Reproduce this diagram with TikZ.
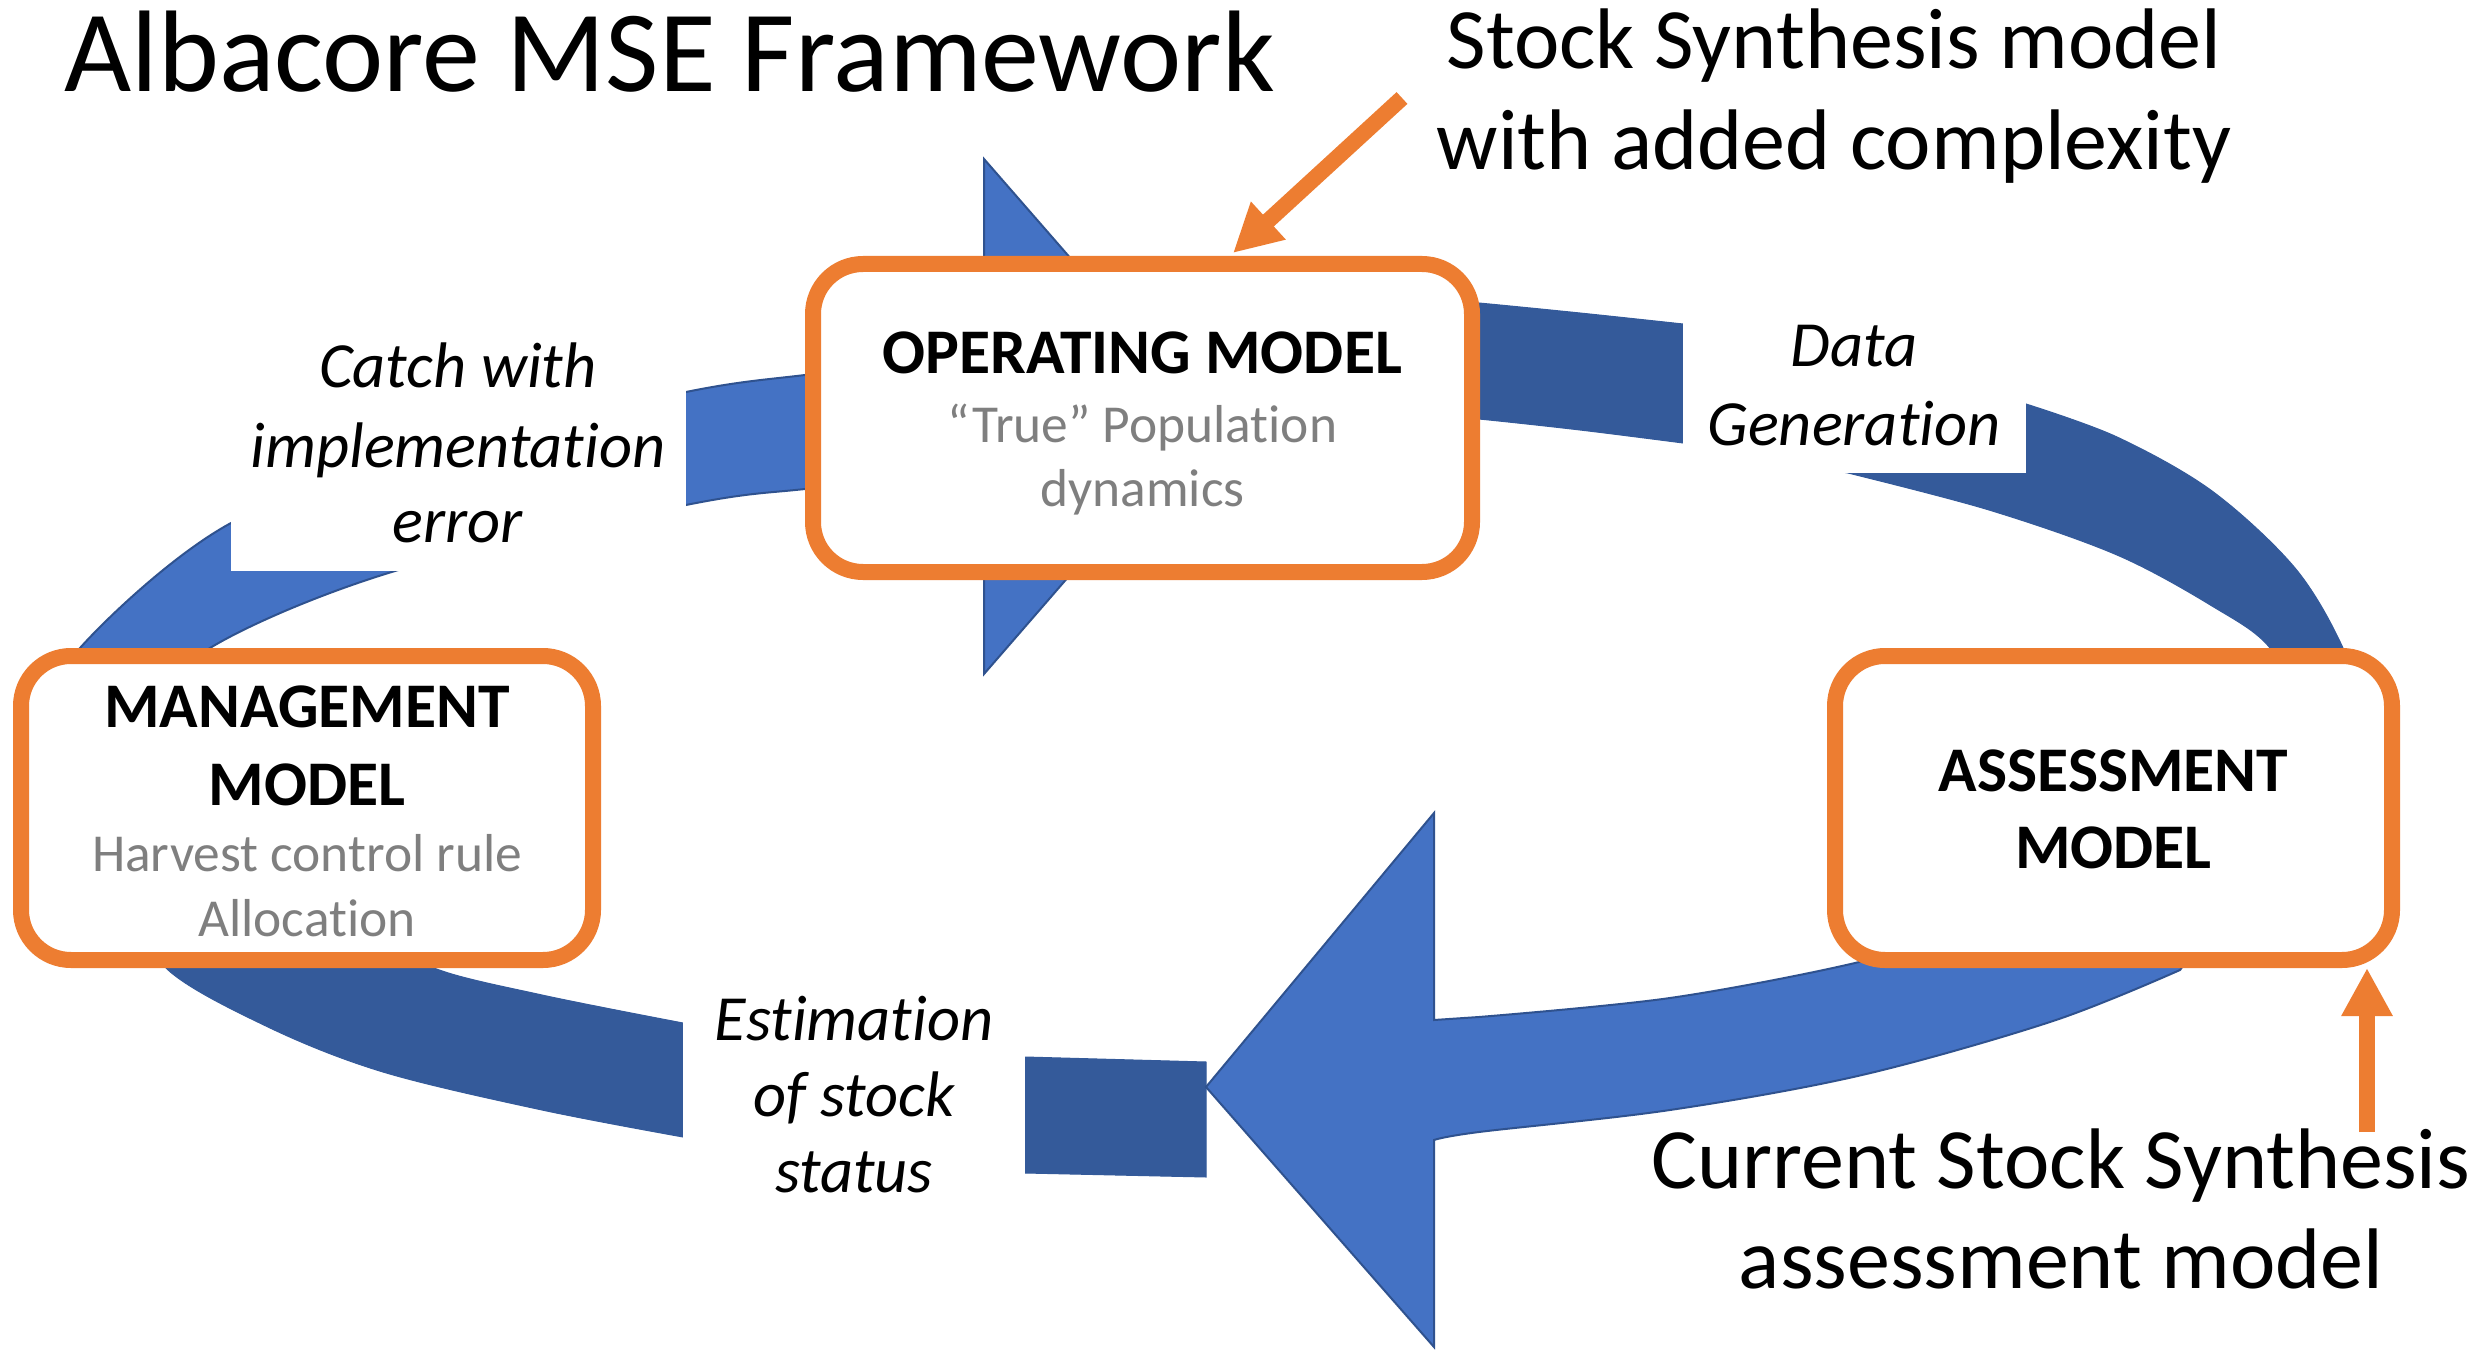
\documentclass[tikz,border=0pt]{standalone}
\usepackage{fontspec}
\setmainfont{Carlito}[Ligatures=NoCommon]
\usetikzlibrary{arrows.meta}
\definecolor{lblue}{HTML}{4472C4}
\definecolor{lbline}{HTML}{2F528F}
\definecolor{dblue}{HTML}{345A9A}
\definecolor{orng}{HTML}{ED7D31}
\definecolor{gtext}{HTML}{7F7F7F}
\tikzset{
  lbshape/.style={fill=lblue, draw=lbline, line width=1pt},
  dbshape/.style={fill=dblue, draw=dblue, line width=0.5pt},
  modelbox/.style={draw=orng, line width=8pt, fill=white, rounded corners=25pt, inner sep=0pt},
  whitebox/.style={fill=white, inner sep=0pt},
  lbl/.style={inner sep=0pt, anchor=base},
  boldlbl/.style={lbl, font=\fontsize{31.8}{38}\selectfont\bfseries},
  graylbl/.style={lbl, text=gtext, font=\fontsize{26.7}{32}\selectfont},
  itlbl/.style={lbl, font=\fontsize{32.2}{39}\selectfont\itshape},
  annot/.style={lbl, font=\fontsize{43}{52}\selectfont},
  oarrow/.style={draw=orng, line width=8pt, -{Triangle[length=24pt,width=24pt]}},
}
\begin{document}
\begin{tikzpicture}[x=0.5pt,y=-0.5pt]
\useasboundingbox (0,0) rectangle (2479,1353);
\fill[white] (0,0) rectangle (2479,1353);

% bottom-left dark band
\path[dbshape] plot[smooth,tension=0.55] coordinates {(140,900) (166,968) (268,1027) (383,1072) (542,1110) (683,1137)}
  -- (1025,1173) -- (1206,1177) -- (1206,1062) -- (1025,1057)
  -- plot[smooth,tension=0.55] coordinates {(683,1023) (542,995) (434,968) (380,930)} -- cycle;

% bottom-right light band with big head
\path[lbshape] (1206,1087) -- (1434,813) -- (1434,1020)
  -- plot[smooth,tension=0.55] coordinates {(1479,1017) (1670,998) (1855,963) (1950,932)}
  -- (2230,900)
  -- plot[smooth,tension=0.55] coordinates {(2180,970) (2053,1021) (1862,1075) (1670,1110) (1479,1132) (1434,1140)}
  -- (1434,1347) -- cycle;

% top-right dark band
\path[dbshape] plot[smooth,tension=0.55] coordinates {(1400,296) (1479,303) (1580,313) (1683,324)}
  -- plot[smooth,tension=0.55] coordinates {(2026,404) (2117,437) (2212,491) (2295,568) (2343,648) (2365,720)}
  -- plot[smooth,tension=0.55] coordinates {(2305,720) (2270,648) (2212,606) (2117,555) (1989,510) (1848,473)}
  -- plot[smooth,tension=0.55] coordinates {(1683,443) (1580,430) (1479,419) (1400,412)} -- cycle;

% top-left light band and its head
\path[lbshape] (984,159) -- (1208,416) -- (984,674) -- cycle;
\path[lbshape] plot[smooth,tension=0.55] coordinates {(930,362) (805,375) (686,392) (450,447) (231,523) (80,648) (55,720)}
  -- plot[smooth,tension=0.55] coordinates {(150,720) (210,648) (395,571) (686,505) (805,489) (930,478)} -- cycle;

% white label backgrounds
\node[whitebox, minimum width=227.5pt, minimum height=125.5pt] (catchbg) at (458.5,445.5) {};
\node[whitebox, minimum width=171.5pt, minimum height=86.5pt] (databg) at (1854.5,386.5) {};
\node[whitebox, minimum width=171pt, minimum height=115pt] (estbg) at (854,1100) {};

% model boxes
\node[modelbox, minimum width=329.5pt, minimum height=154pt] (om) at (1142.5,418) {};
\node[modelbox, minimum width=286pt, minimum height=152pt] (mm) at (307,808) {};
\node[modelbox, minimum width=278.5pt, minimum height=152pt] (am) at (2113.5,808) {};

% box texts
\node[boldlbl] (omt1) at (1142.5,374) {OPERATING MODEL};
\node[graylbl] (omt2) at (1142.5,443) {“True” Population};
\node[graylbl] (omt3) at (1142.5,506) {dynamics};
\node[boldlbl] (mmt1) at (307,727) {MANAGEMENT};
\node[boldlbl] (mmt2) at (307,805) {MODEL};
\node[graylbl] (mmt3) at (307,871) {Harvest control rule};
\node[graylbl] (mmt4) at (307,936) {Allocation};
\node[boldlbl] (amt1) at (2113.5,791) {ASSESSMENT};
\node[boldlbl] (amt2) at (2113.5,868) {MODEL};

% italic labels
\node[itlbl] (ct1) at (458,388) {Catch with};
\node[itlbl] (ct2) at (458,467) {implementation};
\node[itlbl] (ct3) at (458,542) {error};
\node[itlbl] (dg1) at (1854,367) {Data};
\node[itlbl] (dg2) at (1854,445) {Generation};
\node[itlbl] (es1) at (854,1040) {Estimation};
\node[itlbl] (es2) at (854,1116) {of stock};
\node[itlbl] (es3) at (854,1192) {status};

% annotations
\node[annot] (ss1) at (1834,69) {Stock Synthesis model};
\node[annot] (ss2) at (1834,170) {with added complexity};
\node[annot] (cs1) at (2061,1188) {Current Stock Synthesis};
\node[annot] (cs2) at (2061,1288) {assessment model};
\node[lbl, anchor=base west, font=\fontsize{58}{70}\selectfont] (title) at (64,92) {Albacore MSE Framework};

% orange arrows
\coordinate (sstail) at (1402,98);
\coordinate (omtip) at (1233,253);
\draw[oarrow] (sstail) -- (omtip);
\coordinate (cstail) at (2367,1132);
\draw[oarrow] (cstail) -- (cstail |- am.south);
\end{tikzpicture}
\end{document}
